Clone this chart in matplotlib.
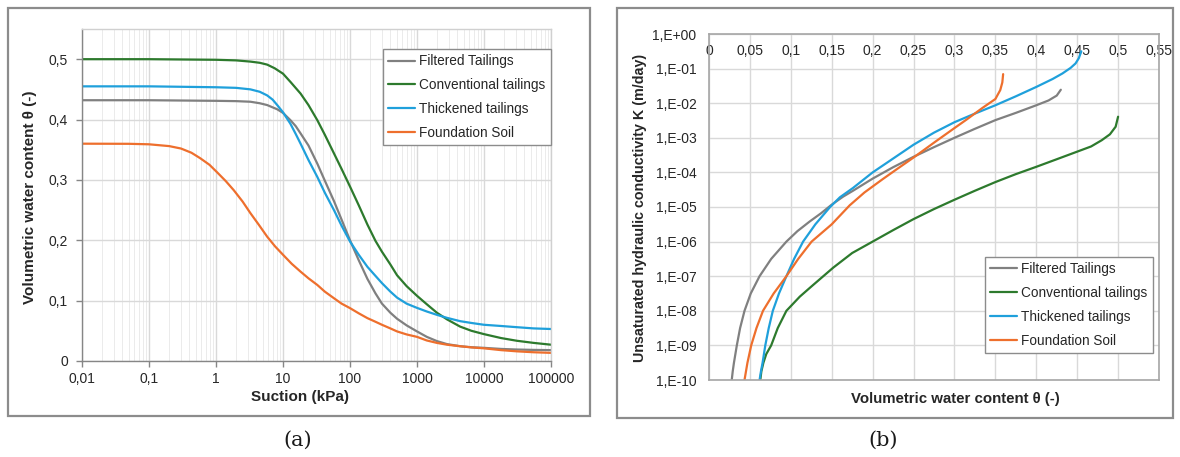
import matplotlib
matplotlib.use("Agg")
import matplotlib.pyplot as plt
from matplotlib.patches import Rectangle
from matplotlib.ticker import FixedLocator, NullFormatter, LogLocator

plt.rcParams['font.family'] = ['Liberation Sans', 'DejaVu Sans']

# ---------------- data: (a) water retention curves ----------------
series_names = ["Filtered Tailings", "Conventional tailings", "Thickened tailings", "Foundation Soil"]
series_colors = ["#808080", "#2d7a2d", "#1fa0db", "#ee6f2d"]

filtered_suction = [0.01, 0.1, 1, 2, 3.26, 4.5, 5.8, 8.2, 10, 12.9, 15.5, 18.3, 24, 32.5, 42,
                    57.6, 75, 100, 135, 182, 240, 300, 400, 504, 700, 1000, 1400, 1980, 2800,
                    4400, 6500, 10000, 18000, 31000, 55000, 100000]
filtered_theta = [0.432, 0.432, 0.431, 0.4305, 0.4295, 0.427, 0.424, 0.417, 0.411, 0.399, 0.389,
                  0.377, 0.357, 0.327, 0.299, 0.265, 0.234, 0.200, 0.167, 0.136, 0.112, 0.095,
                  0.080, 0.070, 0.059, 0.049, 0.040, 0.033, 0.028, 0.0245, 0.0228, 0.0218,
                  0.020, 0.019, 0.0184, 0.018]

conventional_suction = [0.01, 0.1, 1, 2, 3.26, 4.5, 5.8, 7.5, 10, 13, 18.3, 24, 32.5, 42, 57.6,
                        75, 100, 135, 182, 240, 300, 400, 504, 700, 1000, 1400, 1980, 2800,
                        4400, 6500, 10000, 18000, 31000, 55000, 100000]
conventional_theta = [0.500, 0.500, 0.499, 0.498, 0.496, 0.494, 0.491, 0.485, 0.476, 0.462,
                      0.443, 0.424, 0.399, 0.375, 0.344, 0.318, 0.289, 0.258, 0.226, 0.199,
                      0.181, 0.160, 0.142, 0.124, 0.108, 0.094, 0.080, 0.069, 0.057, 0.050,
                      0.0445, 0.038, 0.0335, 0.030, 0.027]

thickened_suction = [0.01, 0.1, 1, 2, 3.26, 4.5, 5.8, 7, 8.2, 10, 12.9, 15.5, 18.3, 24, 32.5, 42,
                     57.6, 75, 100, 135, 182, 240, 300, 400, 504, 700, 1000, 1400, 1980, 2800,
                     4400, 6500, 10000, 18000, 31000, 55000, 100000]
thickened_theta = [0.455, 0.455, 0.4535, 0.4525, 0.450, 0.446, 0.440, 0.433, 0.424, 0.412,
                   0.393, 0.376, 0.360, 0.333, 0.305, 0.279, 0.250, 0.224, 0.198, 0.176, 0.156,
                   0.141, 0.129, 0.115, 0.105, 0.095, 0.088, 0.082, 0.0765, 0.0715, 0.066,
                   0.063, 0.060, 0.058, 0.056, 0.054, 0.053]

foundation_suction = [0.01, 0.05, 0.1, 0.2, 0.3, 0.43, 0.58, 0.8, 1.03, 1.4, 1.84, 2.5, 3.26, 4.4,
                      5.8, 7.6, 10, 13.5, 18.3, 24, 32.5, 42, 57.6, 75, 100, 135, 182, 240, 300,
                      400, 504, 700, 1000, 1400, 1980, 2800, 4400, 6500, 10000, 18000, 31000,
                      55000, 100000]
foundation_theta = [0.360, 0.3598, 0.359, 0.356, 0.352, 0.345, 0.336, 0.325, 0.313, 0.298, 0.283,
                    0.264, 0.245, 0.225, 0.206, 0.190, 0.176, 0.161, 0.148, 0.137, 0.126, 0.115,
                    0.104, 0.095, 0.0876, 0.079, 0.071, 0.065, 0.060, 0.054, 0.049, 0.044, 0.040,
                    0.034, 0.030, 0.027, 0.0245, 0.0225, 0.021, 0.018, 0.016, 0.0145, 0.0135]

a_xticks = [0.01, 0.1, 1, 10, 100, 1000, 10000, 100000]
a_xticklabels = ["0,01", "0,1", "1", "10", "100", "1000", "10000", "100000"]
a_yticks = [0, 0.1, 0.2, 0.3, 0.4, 0.5]
a_yticklabels = ["0", "0,1", "0,2", "0,3", "0,4", "0,5"]

# ---------------- data: (b) hydraulic conductivity curves ----------------
filtered_k_theta = [0.0278, 0.0290, 0.0305, 0.034, 0.038, 0.0434, 0.051, 0.0618, 0.076, 0.0946,
                    0.108, 0.123, 0.137, 0.150, 0.164, 0.176, 0.200, 0.225, 0.250, 0.275, 0.300,
                    0.325, 0.350, 0.375, 0.400, 0.415, 0.425, 0.430]
filtered_k = [1e-10, 1.78e-10, 3.16e-10, 1e-9, 3.16e-9, 1e-8, 3.16e-8, 1e-7, 3.16e-7, 1e-6,
              2.0e-6, 3.8e-6, 6.61e-6, 1.17e-5, 2.0e-5, 2.95e-5, 6.61e-5, 1.41e-4, 2.82e-4,
              5.37e-4, 1e-3, 1.82e-3, 3.24e-3, 5.25e-3, 8.71e-3, 1.2e-2, 1.66e-2, 2.45e-2]

conventional_k_theta = [0.0627, 0.064, 0.0665, 0.070, 0.076, 0.084, 0.0946, 0.111, 0.125, 0.1397,
                        0.152, 0.175, 0.200, 0.225, 0.250, 0.275, 0.300, 0.325, 0.350, 0.375,
                        0.400, 0.425, 0.450, 0.467, 0.480, 0.490, 0.497, 0.500]
conventional_k = [1e-10, 1.78e-10, 3.16e-10, 5.62e-10, 1e-9, 3.16e-9, 1e-8, 2.57e-8, 5.01e-8,
                  1e-7, 1.78e-7, 4.68e-7, 1e-6, 2.14e-6, 4.47e-6, 8.71e-6, 1.62e-5, 2.95e-5,
                  5.25e-5, 8.91e-5, 1.45e-4, 2.4e-4, 3.98e-4, 5.62e-4, 8.51e-4, 1.26e-3,
                  2.09e-3, 4.07e-3]

thickened_k_theta = [0.0618, 0.0635, 0.0655, 0.0688, 0.073, 0.078, 0.0855, 0.0946, 0.104, 0.115,
                     0.130, 0.148, 0.160, 0.176, 0.200, 0.225, 0.250, 0.275, 0.300, 0.325, 0.350,
                     0.375, 0.400, 0.420, 0.432, 0.442, 0.448, 0.452, 0.455]
thickened_k = [1e-10, 1.78e-10, 3.16e-10, 1e-9, 3.16e-9, 1e-8, 3.16e-8, 1e-7, 3.16e-7, 1e-6,
               3.16e-6, 1e-5, 1.91e-5, 3.55e-5, 1e-4, 2.51e-4, 6.31e-4, 1.41e-3, 2.82e-3,
               5.01e-3, 8.71e-3, 1.58e-2, 2.95e-2, 5.01e-2, 7.24e-2, 1.05e-1, 1.41e-1, 2.0e-1,
               3.16e-1]

foundation_k_theta = [0.0434, 0.0452, 0.047, 0.0516, 0.058, 0.066, 0.079, 0.0946, 0.109, 0.1254,
                      0.150, 0.172, 0.190, 0.212, 0.230, 0.250, 0.275, 0.300, 0.315, 0.334,
                      0.350, 0.356, 0.3585, 0.3595]
foundation_k = [1e-10, 1.78e-10, 3.16e-10, 1e-9, 3.16e-9, 1e-8, 3.16e-8, 1e-7, 3.16e-7, 1e-6,
                3.16e-6, 1.12e-5, 2.63e-5, 6.31e-5, 1.26e-4, 2.69e-4, 7.24e-4, 1.91e-3, 3.39e-3,
                7.24e-3, 1.32e-2, 2.4e-2, 3.98e-2, 6.92e-2]

b_xticks = [0, 0.05, 0.1, 0.15, 0.2, 0.25, 0.3, 0.35, 0.4, 0.45, 0.5, 0.55]
b_xticklabels = ["0", "0,05", "0,1", "0,15", "0,2", "0,25", "0,3", "0,35", "0,4", "0,45", "0,5", "0,55"]
b_yticks = [1e-10, 1e-9, 1e-8, 1e-7, 1e-6, 1e-5, 1e-4, 1e-3, 1e-2, 1e-1, 1e0]
b_yticklabels = ["1,E-10", "1,E-09", "1,E-08", "1,E-07", "1,E-06", "1,E-05", "1,E-04",
                 "1,E-03", "1,E-02", "1,E-01", "1,E+00"]

# ---------------- figure ----------------
W, H = 1180, 457
fig = plt.figure(figsize=(W / 100, H / 100), dpi=100)
fig.patch.set_facecolor("white")


def fx(px):
    return px / W


def fy(py):
    return 1 - py / H


# panel frames
for (x0, y0, x1, y1) in [(8, 8, 590, 416), (617, 8, 1173, 418)]:
    fig.patches.append(Rectangle((fx(x0), fy(y1)), fx(x1 - x0), (y1 - y0) / H,
                                 transform=fig.transFigure, fill=False,
                                 edgecolor="#8c8c8c", linewidth=1.6, zorder=0))

TICK_FS = 10
LEG_FS = 9.8
LW = 1.6
TXT = "#262626"

# ---------- (a) ----------
axa = fig.add_axes([fx(82), fy(361), fx(551 - 82), (361 - 29) / H])
axa.set_xscale("log")
axa.set_xlim(0.01, 100000)
axa.set_ylim(0, 0.55)

a_sets = [(filtered_suction, filtered_theta), (conventional_suction, conventional_theta),
          (thickened_suction, thickened_theta), (foundation_suction, foundation_theta)]
for (xs, ys), name, col in zip(a_sets, series_names, series_colors):
    axa.plot(xs, ys, color=col, linewidth=LW, label=name, solid_capstyle="round",
             solid_joinstyle="round")

axa.xaxis.set_major_locator(FixedLocator(a_xticks))
axa.set_xticklabels(a_xticklabels)
axa.xaxis.set_minor_locator(LogLocator(base=10, subs=range(2, 10), numticks=20))
axa.xaxis.set_minor_formatter(NullFormatter())
axa.set_yticks(a_yticks)
axa.set_yticklabels(a_yticklabels)
axa.grid(True, which="major", color="#d9d9d9", linewidth=1.0)
axa.grid(True, which="minor", axis="x", color="#ebebeb", linewidth=0.7)
axa.set_axisbelow(True)
axa.tick_params(axis="both", which="major", direction="out", length=4, width=1,
                color="#868686", labelsize=TICK_FS, labelcolor=TXT)
axa.tick_params(axis="y", which="major", pad=6)
axa.tick_params(axis="x", which="major", pad=4)
axa.tick_params(axis="x", which="minor", length=0)
for s in ["left", "bottom"]:
    axa.spines[s].set_color("#868686")
    axa.spines[s].set_linewidth(1.0)
for s in ["top", "right"]:
    axa.spines[s].set_color("#d0d0d0")
    axa.spines[s].set_linewidth(1.0)
fig.text(fx(300), fy(397), "Suction (kPa)", fontsize=11, fontweight="bold", color=TXT,
         ha="center", va="center")
fig.text(fx(30.5), fy(197), "Volumetric water content θ (-)", fontsize=11, fontweight="bold",
         color=TXT, ha="center", va="center", rotation=90)
leg = axa.legend(loc="upper right", bbox_to_anchor=(1.0, (361 - 49) / 332), fontsize=LEG_FS,
                 frameon=True, fancybox=False, edgecolor="#8c8c8c", framealpha=1,
                 handlelength=2.0, handletextpad=0.3, labelspacing=0.72, borderpad=0.4,
                 borderaxespad=0)
leg.get_frame().set_linewidth(1.0)
for t in leg.get_texts():
    t.set_color(TXT)

# ---------- (b) ----------
axb = fig.add_axes([fx(709), fy(380), fx(1159 - 709), (380 - 34) / H])
axb.set_yscale("log")
axb.set_xlim(0, 0.55)
axb.set_ylim(1e-10, 1)

b_sets = [(filtered_k_theta, filtered_k), (conventional_k_theta, conventional_k),
          (thickened_k_theta, thickened_k), (foundation_k_theta, foundation_k)]
for (xs, ys), name, col in zip(b_sets, series_names, series_colors):
    axb.plot(xs, ys, color=col, linewidth=LW, label=name, solid_capstyle="round",
             solid_joinstyle="round")

axb.set_xticks(b_xticks)
axb.set_xticklabels(b_xticklabels)
axb.yaxis.set_major_locator(FixedLocator(b_yticks))
axb.set_yticklabels(b_yticklabels)
axb.yaxis.set_minor_locator(FixedLocator([]))
axb.grid(True, which="major", color="#d9d9d9", linewidth=1.0)
axb.set_axisbelow(True)
axb.tick_params(axis="x", which="both", bottom=False, labelbottom=False, top=False,
                labeltop=True, length=0, pad=-17.5, labelsize=TICK_FS, labelcolor=TXT)
axb.tick_params(axis="y", which="both", length=0, pad=9, labelsize=TICK_FS, labelcolor=TXT)
for s in axb.spines.values():
    s.set_color("#a6a6a6")
    s.set_linewidth(1.2)
fig.text(fx(640), fy(208), "Unsaturated hydraulic conductivity K (m/day)", fontsize=10.3,
         fontweight="bold", color=TXT, ha="center", va="center", rotation=90)
fig.text(fx(955), fy(399), "Volumetric water content θ (-)", fontsize=10.8,
         fontweight="bold", color=TXT, ha="center", va="center")
legb = axb.legend(loc="lower right", bbox_to_anchor=((1153 - 709) / 450, (380 - 353) / 346),
                  fontsize=LEG_FS, frameon=True, fancybox=False, edgecolor="#8c8c8c",
                  framealpha=1, handlelength=2.0, handletextpad=0.3, labelspacing=0.72,
                  borderpad=0.4, borderaxespad=0)
legb.get_frame().set_linewidth(1.0)
for t in legb.get_texts():
    t.set_color(TXT)

# captions
fig.text(fx(298), fy(440), "(a)", fontsize=15, family="DejaVu Serif", ha="center", va="center",
         color="#1a1a1a")
fig.text(fx(883), fy(440), "(b)", fontsize=15, family="DejaVu Serif", ha="center", va="center",
         color="#1a1a1a")

fig.savefig("out.png", dpi=100, facecolor="white")
